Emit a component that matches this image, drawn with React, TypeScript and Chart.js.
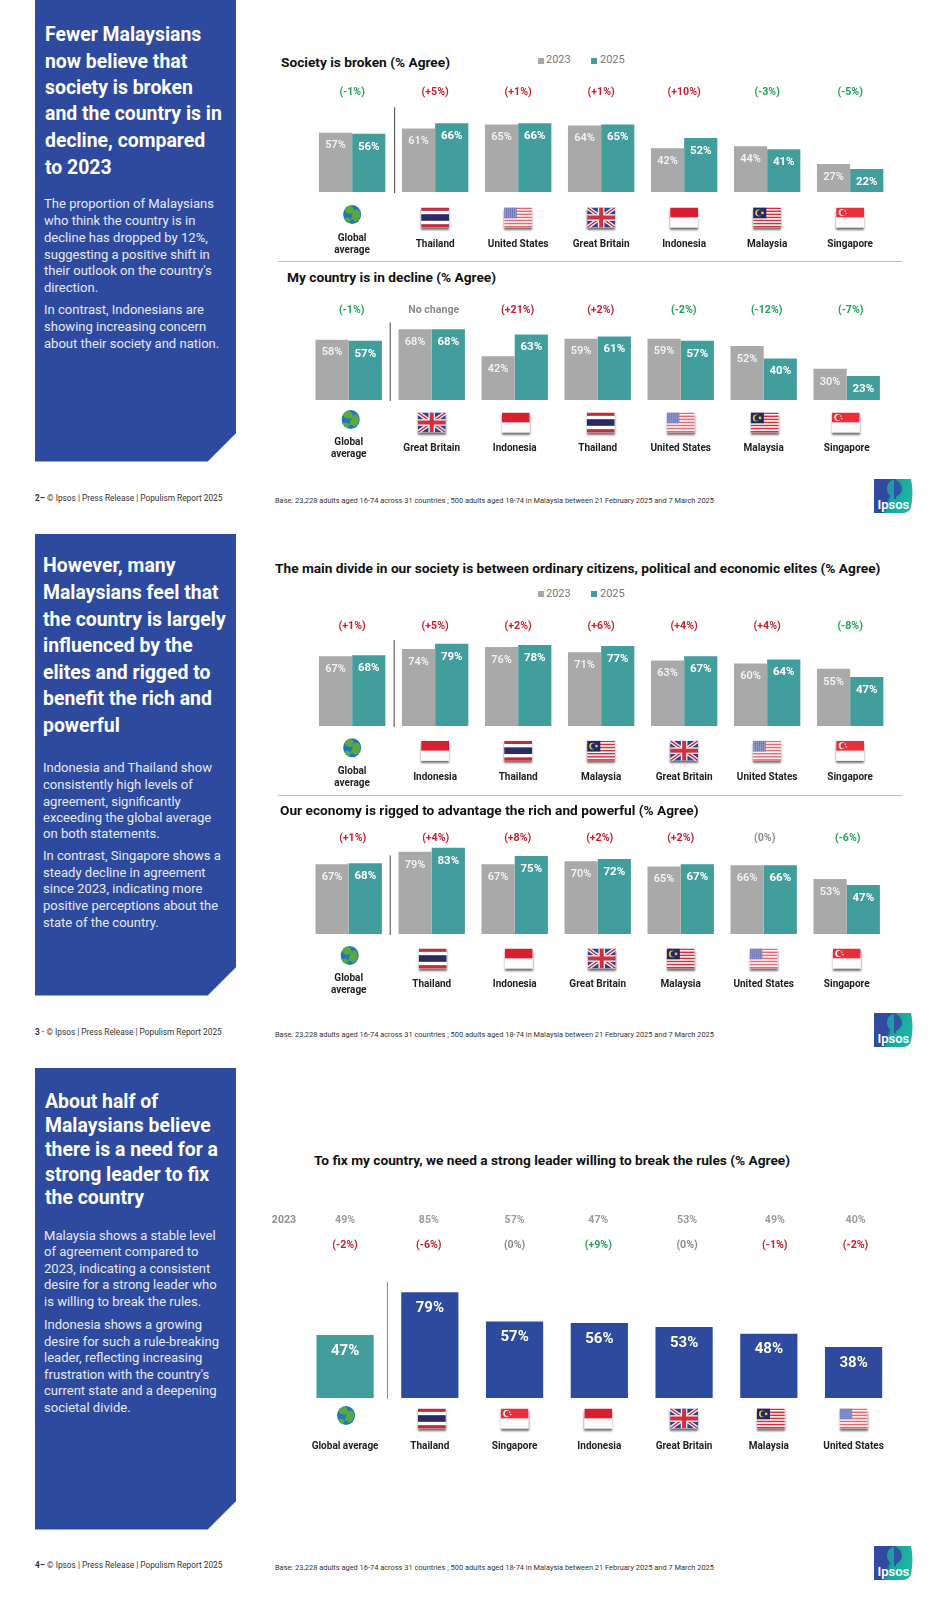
import React, { useEffect, useRef } from "react";
import { Chart, registerables } from "chart.js";

Chart.register(...registerables);

const FONT = "Roboto, sans-serif";
const GREY = "#A9A9A9";
const TEAL = "#429E9D";
const BLUE = "#2E4A9E";

// ---- data ----
const labels1 = [["Global", "average"], "Thailand", "United States", "Great Britain", "Indonesia", "Malaysia", "Singapore"];
const flags1 = ["GL", "TH", "US", "GB", "ID", "MY", "SG"];
const v1_2023 = [57, 61, 65, 64, 42, 44, 27];
const v1_2025 = [56, 66, 66, 65, 52, 41, 22];
const d1 = ["(-1%)", "(+5%)", "(+1%)", "(+1%)", "(+10%)", "(-3%)", "(-5%)"];

const labels2 = [["Global", "average"], "Great Britain", "Indonesia", "Thailand", "United States", "Malaysia", "Singapore"];
const flags2 = ["GL", "GB", "ID", "TH", "US", "MY", "SG"];
const v2_2023 = [58, 68, 42, 59, 59, 52, 30];
const v2_2025 = [57, 68, 63, 61, 57, 40, 23];
const d2 = ["(-1%)", "No change", "(+21%)", "(+2%)", "(-2%)", "(-12%)", "(-7%)"];

const labels3 = [["Global", "average"], "Indonesia", "Thailand", "Malaysia", "Great Britain", "United States", "Singapore"];
const flags3 = ["GL", "ID", "TH", "MY", "GB", "US", "SG"];
const v3_2023 = [67, 74, 76, 71, 63, 60, 55];
const v3_2025 = [68, 79, 78, 77, 67, 64, 47];
const d3 = ["(+1%)", "(+5%)", "(+2%)", "(+6%)", "(+4%)", "(+4%)", "(-8%)"];

const labels4 = [["Global", "average"], "Thailand", "Indonesia", "Great Britain", "Malaysia", "United States", "Singapore"];
const flags4 = ["GL", "TH", "ID", "GB", "MY", "US", "SG"];
const v4_2023 = [67, 79, 67, 70, 65, 66, 53];
const v4_2025 = [68, 83, 75, 72, 67, 66, 47];
const d4 = ["(+1%)", "(+4%)", "(+8%)", "(+2%)", "(+2%)", "(0%)", "(-6%)"];

const labels5 = ["Global average", "Thailand", "Singapore", "Indonesia", "Great Britain", "Malaysia", "United States"];
const flags5 = ["GL", "TH", "SG", "ID", "GB", "MY", "US"];
const v5_2025 = [47, 79, 57, 56, 53, 48, 38];
const v5_2023 = ["49%", "85%", "57%", "47%", "53%", "49%", "40%"];
const d5 = ["(-2%)", "(-6%)", "(0%)", "(+9%)", "(0%)", "(-1%)", "(-2%)"];

const BASE = "Base: 23,228 adults aged 16-74 across 31 countries ; 500 adults aged 18-74 in Malaysia between 21 February 2025 and 7 March 2025";

// ---- flags ----
function stripes(ctx: any, x: number, y: number, w: number, h: number, cols: string[], weights?: number[]) {
  const tot = weights ? weights.reduce((a, b) => a + b, 0) : cols.length;
  let cy = y;
  cols.forEach((c, i) => {
    const sh = (h * (weights ? weights[i] : 1)) / tot;
    ctx.fillStyle = c;
    ctx.fillRect(x, cy, w, sh + 0.2);
    cy += sh;
  });
}

function drawFlag(ctx: any, code: string, cx: number, cy: number) {
  ctx.save();
  if (code === "GL") {
    const gy = cy - 3;
    ctx.fillStyle = "#1F78B8";
    ctx.beginPath();
    ctx.ellipse(cx, gy, 9, 9.5, 0, 0, Math.PI * 2);
    ctx.fill();
    ctx.save();
    ctx.clip();
    ctx.fillStyle = "#5CA83E";
    ctx.beginPath();
    ctx.ellipse(cx - 3, gy - 5, 5, 4, 0.4, 0, Math.PI * 2);
    ctx.ellipse(cx + 4, gy + 1, 4, 6, 0.2, 0, Math.PI * 2);
    ctx.ellipse(cx - 5, gy + 6, 3, 3, 0, 0, Math.PI * 2);
    ctx.fill();
    ctx.restore();
    ctx.restore();
    return;
  }
  const w = 28;
  const h = 20;
  const x = cx - w / 2;
  const y = cy - h / 2;
  ctx.save();
  ctx.shadowColor = "rgba(0,0,0,0.55)";
  ctx.shadowBlur = 2;
  ctx.shadowOffsetY = 2;
  ctx.fillStyle = "#fff";
  ctx.fillRect(x, y, w, h);
  ctx.restore();
  ctx.beginPath();
  ctx.rect(x, y, w, h);
  ctx.clip();
  if (code === "TH") {
    stripes(ctx, x, y, w, h, ["#C8283A", "#fff", "#2B2A66", "#fff", "#C8283A"], [1, 1, 2, 1, 1]);
  } else if (code === "ID") {
    stripes(ctx, x, y, w, h, ["#D81F30", "#FBFBFB"]);
  } else if (code === "SG") {
    stripes(ctx, x, y, w, h, ["#EA2F3C", "#FBFBFB"]);
    ctx.fillStyle = "#fff";
    ctx.beginPath();
    ctx.arc(x + 6, y + 5, 3.4, 0, Math.PI * 2);
    ctx.fill();
    ctx.fillStyle = "#EA2F3C";
    ctx.beginPath();
    ctx.arc(x + 7.3, y + 5, 3, 0, Math.PI * 2);
    ctx.fill();
    ctx.fillStyle = "#fff";
    ctx.fillRect(x + 8.5, y + 3, 1.2, 1.2);
    ctx.fillRect(x + 9.5, y + 5.5, 1.2, 1.2);
  } else if (code === "US") {
    const c: string[] = [];
    for (let i = 0; i < 13; i++) c.push(i % 2 ? "#FAF3F3" : "#E56B72");
    stripes(ctx, x, y, w, h, c);
    ctx.fillStyle = "#6C78BD";
    ctx.fillRect(x, y, w * 0.45, (h * 7) / 13);
    ctx.fillStyle = "#C9CEE8";
    for (let r = 0; r < 5; r++) for (let q = 0; q < 6; q++) ctx.fillRect(x + 1 + q * 2, y + 1 + r * 2, 0.9, 0.9);
  } else if (code === "MY") {
    const c: string[] = [];
    for (let i = 0; i < 13; i++) c.push(i % 2 ? "#FAF3F3" : "#CF3040");
    stripes(ctx, x, y, w, h, c);
    ctx.fillStyle = "#1D2A68";
    ctx.fillRect(x, y, w * 0.47, (h * 7) / 13);
    ctx.fillStyle = "#F4C430";
    ctx.beginPath();
    ctx.arc(x + 5.5, y + 5.4, 3.4, 0, Math.PI * 2);
    ctx.fill();
    ctx.fillStyle = "#1D2A68";
    ctx.beginPath();
    ctx.arc(x + 6.8, y + 5.4, 2.9, 0, Math.PI * 2);
    ctx.fill();
    ctx.fillStyle = "#F4C430";
    ctx.beginPath();
    ctx.arc(x + 9.3, y + 5.4, 1.4, 0, Math.PI * 2);
    ctx.fill();
  } else if (code === "GB") {
    ctx.fillStyle = "#2D4190";
    ctx.fillRect(x, y, w, h);
    const diag = (col: string, lw: number) => {
      ctx.strokeStyle = col;
      ctx.lineWidth = lw;
      ctx.beginPath();
      ctx.moveTo(x, y);
      ctx.lineTo(x + w, y + h);
      ctx.moveTo(x + w, y);
      ctx.lineTo(x, y + h);
      ctx.stroke();
    };
    diag("#F4F4F8", 4);
    diag("#D0303F", 1.5);
    ctx.fillStyle = "#F4F4F8";
    ctx.fillRect(cx - 3.3, y, 6.6, h);
    ctx.fillRect(x, cy - 3.3, w, 6.6);
    ctx.fillStyle = "#D0303F";
    ctx.fillRect(cx - 2, y, 4, h);
    ctx.fillRect(x, cy - 2, w, 4);
  }
  ctx.restore();
}

// ---- plugin drawing deltas, values, flags and divider ----
const decorPlugin = {
  id: "decor",
  afterDatasetsDraw(chart: any, _a: any, o: any) {
    const { ctx } = chart;
    const xs = chart.scales.x;
    const ys = chart.scales.y;
    const bottom = chart.chartArea.bottom;
    ctx.save();
    // divider
    const m0 = xs.getPixelForValue(0);
    const m1 = xs.getPixelForValue(1);
    const dx = (m0 + m1) / 2 + o.dividerNudge;
    ctx.strokeStyle = o.dividerColor;
    ctx.lineWidth = 1;
    ctx.beginPath();
    ctx.moveTo(dx, ys.getPixelForValue(o.dividerTop));
    ctx.lineTo(dx, bottom + 1);
    ctx.stroke();
    // values
    chart.data.datasets.forEach((ds: any, di: number) => {
      const meta = chart.getDatasetMeta(di);
      ctx.textAlign = "center";
      ctx.textBaseline = "middle";
      ctx.font = ds.valueFont;
      ctx.fillStyle = ds.valueColor;
      meta.data.forEach((el: any, i: number) => {
        ctx.fillText(ds.data[i] + "%", el.x, el.y + ds.valueOffset);
      });
    });
    // row(s) above bars and flags
    o.flags.forEach((f: string, i: number) => {
      const x = xs.getPixelForValue(i);
      ctx.textAlign = "center";
      ctx.textBaseline = "middle";
      const t: string = o.deltas[i];
      let col = "#8A8A8A";
      if (t.includes("+")) col = o.invert ? "#1FA35B" : "#C8202F";
      else if (t.includes("-")) col = o.invert ? "#C8202F" : "#1FA35B";
      ctx.font = `700 10.6px ${FONT}`;
      ctx.fillStyle = col;
      ctx.fillText(t, x + (o.nudge ? o.nudge[i] : 0), bottom - o.deltaUp);
      if (o.row2023) {
        ctx.fillStyle = "#9A9A9A";
        ctx.fillText(o.row2023[i], x + (o.nudge ? o.nudge[i] : 0), bottom - o.rowUp);
      }
      drawFlag(ctx, f, x + (o.flagNudge ? o.flagNudge[i] : 0), bottom + o.flagDown);
    });
    if (o.row2023) {
      ctx.fillStyle = "#8E8E8E";
      ctx.fillText("2023", 284 - chart.canvas.offsetLeft, bottom - o.rowUp);
    }
    ctx.restore();
  },
};

function Bars(props: any) {
  const ref = useRef<HTMLCanvasElement | null>(null);
  const { baseline, areaLeft, pitch, k, topPad, catPct, labels, datasets, decor, labelPad } = props;
  const left = 270;
  const width = 650;
  const bottomH = 76;
  const height = topPad + 100 * k + bottomH;
  useEffect(() => {
    const chart = new Chart(ref.current as any, {
      type: "bar",
      data: { labels, datasets },
      plugins: [decorPlugin],
      options: {
        animation: false,
        responsive: false,
        layout: {
          padding: { left: areaLeft - left, right: width - (areaLeft - left) - pitch * 7, top: topPad, bottom: 0 },
        },
        datasets: { bar: { categoryPercentage: catPct, barPercentage: 1, borderWidth: 0 } },
        plugins: { legend: { display: false }, tooltip: { enabled: false }, title: { display: false }, decor },
        scales: {
          x: {
            grid: { display: false, drawTicks: false },
            border: { display: false },
            afterFit: (s: any) => {
              s.height = bottomH;
              s.paddingLeft = 0;
              s.paddingRight = 0;
            },
            ticks: {
              autoSkip: false,
              maxRotation: 0,
              minRotation: 0,
              padding: labelPad,
              crossAlign: "center",
              color: "#1E1E1E",
              font: { family: FONT, size: 10, weight: "700", lineHeight: 1.2 },
            },
          },
          y: { display: false, min: 0, max: 100, grid: { display: false } },
        },
      } as any,
    });
    return () => chart.destroy();
  }, []);
  return (
    <canvas
      ref={ref}
      width={width}
      height={height}
      style={{ position: "absolute", left, top: baseline - topPad - 100 * k, width, height, display: "block" }}
    />
  );
}

function pair(a: number[], b: number[]) {
  return [
    { label: "2023", data: a, backgroundColor: GREY, valueFont: `600 11px ${FONT}`, valueColor: "#F3F3F3", valueOffset: 13 },
    { label: "2025", data: b, backgroundColor: TEAL, valueFont: `700 11.5px ${FONT}`, valueColor: "#FFFFFF", valueOffset: 13 },
  ];
}

function T(p: any) {
  const { x, y, size, weight, color, children, lh } = p;
  const h = lh || size * 1.3;
  return (
    <div
      style={{
        position: "absolute",
        left: x,
        top: y - h / 2,
        height: h,
        lineHeight: h + "px",
        fontSize: size,
        fontWeight: weight || 400,
        color: color || "#111",
        whiteSpace: "nowrap",
        fontFamily: FONT,
        ...(p.style || {}),
      }}
    >
      {children}
    </div>
  );
}

function Panel({ top, heading, headY, headX, body }: any) {
  return (
    <>
      <div
        style={{
          position: "absolute",
          left: 34.7,
          top,
          width: 201.5,
          height: 461.5,
          background: BLUE,
          clipPath: "polygon(0 0,100% 0,100% 433px,173px 100%,0 100%)",
        }}
      />
      {heading.map((t: string, i: number) => (
        <T key={i} x={headX} y={headY[i]} size={19.4} weight={700} color="#fff">
          {t}
        </T>
      ))}
      {body.map((b: any, i: number) => (
        <T key={"b" + i} x={headX === 43 ? 43 : headX - 1} y={b[1]} size={13.05} weight={400} color="#E6E9F4">
          {b[0]}
        </T>
      ))}
    </>
  );
}

function Logo({ top }: any) {
  return (
    <svg style={{ position: "absolute", left: 874, top }} width="40" height="34" viewBox="0 0 40 34">
      <defs>
        <linearGradient id={"lg" + top} x1="0" y1="0" x2="1" y2="0.3">
          <stop offset="0.48" stopColor="#2F4A9E" />
          <stop offset="0.56" stopColor="#17A59A" />
          <stop offset="1" stopColor="#1CB5A8" />
        </linearGradient>
      </defs>
      <path d="M0 0H37Q40 14 37 28Q36 33 30 34H0Z" fill={"url(#lg" + top + ")"} />
      <path d="M20 1C15 1 13 6 13 10C13 14 16 17 20 18Z" fill="#2499A6" />
      <path d="M20 1C25 1 28 6 28 10C28 14 24 17 22 18V20H20Z" fill="#2F55A2" />
      <text x="3.5" y="30" fontFamily={FONT} fontSize="13" fontWeight="600" fill="#fff">
        Ipsos
      </text>
    </svg>
  );
}

function Legend({ y }: any) {
  return (
    <>
      <div style={{ position: "absolute", left: 537.5, top: y - 3, width: 6, height: 6, background: GREY }} />
      <T x={546} y={y} size={11} color="#777">2023</T>
      <div style={{ position: "absolute", left: 591, top: y - 3, width: 6, height: 6, background: TEAL }} />
      <T x={600} y={y} size={11} color="#777">2025</T>
    </>
  );
}

function Footer({ lead, y }: any) {
  return (
    <>
      <T x={35} y={y} size={8.3} color="#333">
        <b>{lead}</b> © Ipsos | Press Release | Populism Report 2025
      </T>
      <T x={275} y={y + 3} size={7.43} color="#333">{BASE}</T>
    </>
  );
}

export default function App() {
  const dividerDark = "#444";
  const TITLE = 13.7;
  return (
    <div style={{ position: "absolute", left: 0, top: 0, width: 947, height: 1600, background: "#fff", overflow: "hidden" }}>
      <Panel
        top={0}
        headX={45}
        heading={["Fewer Malaysians", "now believe that", "society is broken", "and the country is in", "decline, compared", "to 2023"]}
        headY={[35, 61.5, 88, 114, 140.5, 168]}
        body={[
          ["The proportion of Malaysians", 204.5],
          ["who think the country is in", 221.5],
          ["decline has dropped by 12%,", 238.5],
          ["suggesting a positive shift in", 255],
          ["their outlook on the country's", 271.5],
          ["direction.", 288.5],
          ["In contrast, Indonesians are", 310.5],
          ["showing increasing concern", 327],
          ["about their society and nation.", 344.5],
        ]}
      />
      <Panel
        top={534}
        headX={43}
        heading={["However, many", "Malaysians feel that", "the country is largely", "influenced by the", "elites and rigged to", "benefit the rich and", "powerful"]}
        headY={[566, 593, 620, 646, 673, 699, 726]}
        body={[
          ["Indonesia and Thailand show", 768],
          ["consistently high levels of", 785],
          ["agreement, significantly", 802],
          ["exceeding the global average", 818],
          ["on both statements.", 834.5],
          ["In contrast, Singapore shows a", 856.5],
          ["steady decline in agreement", 873],
          ["since 2023, indicating more", 889.5],
          ["positive perceptions about the", 906.5],
          ["state of the country.", 923],
        ]}
      />
      <Panel
        top={1068}
        headX={45}
        heading={["About half of", "Malaysians believe", "there is a need for a", "strong leader to fix", "the country"]}
        headY={[1101.5, 1125.5, 1149.5, 1175, 1197.5]}
        body={[
          ["Malaysia shows a stable level", 1236],
          ["of agreement compared to", 1252.5],
          ["2023, indicating a consistent", 1269],
          ["desire for a strong leader who", 1285.5],
          ["is willing to break the rules.", 1302.5],
          ["Indonesia shows a growing", 1325],
          ["desire for such a rule-breaking", 1342],
          ["leader, reflecting increasing", 1358.5],
          ["frustration with the country's", 1375],
          ["current state and a deepening", 1391.5],
          ["societal divide.", 1408],
        ]}
      />

      <T x={281} y={62.5} size={TITLE} weight={700}>Society is broken (% Agree)</T>
      <Legend y={60.5} />
      <Bars
        baseline={192} areaLeft={310.65} pitch={83} k={1.04} topPad={20} catPct={0.8} labelPad={46.5}
        labels={labels1} datasets={pair(v1_2023, v1_2025)}
        decor={{ flags: flags1, deltas: d1, deltaUp: 100, flagDown: 25.5, dividerTop: 81.5, dividerColor: dividerDark, dividerNudge: 1 }}
      />
      <div style={{ position: "absolute", left: 277.5, top: 261.2, width: 624.5, height: 1, background: "#BDBDBD" }} />
      <T x={287} y={278} size={TITLE} weight={700}>My country is in decline (% Agree)</T>
      <Bars
        baseline={400.3} areaLeft={307.2} pitch={83} k={1.04} topPad={20} catPct={0.8} labelPad={42.5}
        labels={labels2} datasets={pair(v2_2023, v2_2025)}
        decor={{
          flags: flags2, deltas: d2, deltaUp: 90, flagDown: 22.5, dividerTop: 74.6, dividerColor: dividerDark, dividerNudge: 0,
          nudge: [3, 2, 3, 3, 3, 3, 4], flagNudge: [2, 0, 1, 3, 0, 1, -1],
        }}
      />
      <T x={275} y={569} size={TITLE} weight={700}>The main divide in our society is between ordinary citizens, political and economic elites (% Agree)</T>
      <Legend y={594} />
      <Bars
        baseline={726} areaLeft={310.65} pitch={83} k={1.04} topPad={20} catPct={0.8} labelPad={45.5}
        labels={labels3} datasets={pair(v3_2023, v3_2025)}
        decor={{ flags: flags3, deltas: d3, deltaUp: 99.5, flagDown: 24.7, dividerTop: 82.7, dividerColor: dividerDark, dividerNudge: 0.5 }}
      />
      <div style={{ position: "absolute", left: 277.5, top: 795, width: 624.5, height: 1, background: "#BDBDBD" }} />
      <T x={280} y={810.5} size={TITLE} weight={700}>Our economy is rigged to advantage the rich and powerful (% Agree)</T>
      <Bars
        baseline={934.3} areaLeft={307.2} pitch={83} k={1.04} topPad={20} catPct={0.8} labelPad={44.5}
        labels={labels4} datasets={pair(v4_2023, v4_2025)}
        decor={{
          flags: flags4, deltas: d4, deltaUp: 96, flagDown: 24.5, dividerTop: 75.6, dividerColor: dividerDark, dividerNudge: 0,
          nudge: [4, 4, 3, 2, 0, 1, 1], flagNudge: [1, 1, 4, 4, 0, 0, 0],
        }}
      />
      <T x={314} y={1161} size={TITLE} weight={700}>To fix my country, we need a strong leader willing to break the rules (% Agree)</T>
      <Bars
        baseline={1398} areaLeft={302.7} pitch={84.75} k={1.345} topPad={50} catPct={0.675} labelPad={48}
        labels={labels5}
        datasets={[
          {
            label: "2025",
            data: v5_2025,
            backgroundColor: v5_2025.map((_, i) => (i === 0 ? TEAL : BLUE)),
            valueFont: `700 15px ${FONT}`,
            valueColor: "#FFFFFF",
            valueOffset: 16,
          },
        ]}
        decor={{
          flags: flags5, deltas: d5, row2023: v5_2023, rowUp: 177.7, deltaUp: 153, flagDown: 20.5,
          dividerTop: 86.5, dividerColor: "#888", dividerNudge: 0, invert: true, nudge: [0, -1, 0, -1, 3, 6, 2],
          flagNudge: [1, 2, 0, -1, 0, 2, 0],
        }}
      />

      <Footer lead="2–" y={498} />
      <Footer lead="3 ·" y={1032} />
      <Footer lead="4–" y={1565} />
      <Logo top={479} />
      <Logo top={1013} />
      <Logo top={1546} />
    </div>
  );
}
